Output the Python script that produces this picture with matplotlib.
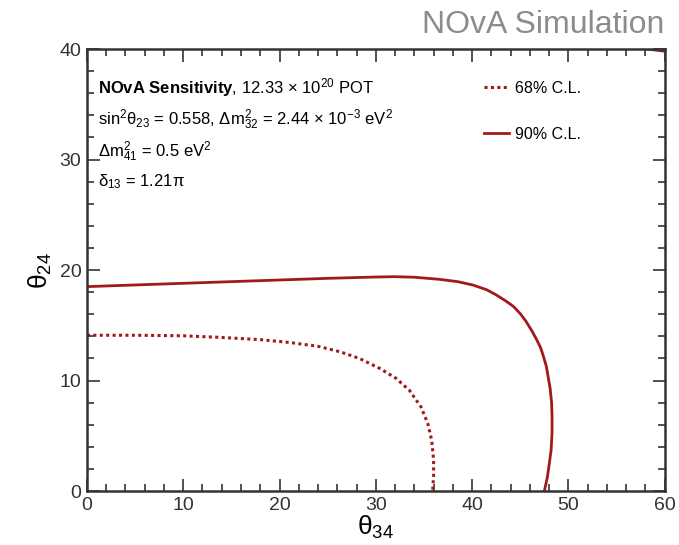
import matplotlib
matplotlib.use('Agg')
import matplotlib.pyplot as plt
from matplotlib.ticker import MultipleLocator

plt.rcParams['font.family'] = ['Liberation Sans', 'DejaVu Sans']
plt.rcParams['mathtext.fontset'] = 'custom'
plt.rcParams['mathtext.rm'] = 'Liberation Sans'
plt.rcParams['mathtext.it'] = 'Liberation Sans:italic'
plt.rcParams['mathtext.bf'] = 'Liberation Sans:bold'
plt.rcParams['mathtext.default'] = 'regular'

# contour points (theta34, theta24), degrees
theta34_90 = [0, 5, 10, 15, 20, 25, 30, 32, 34, 36.6, 38.5, 40.1, 41.5,
              42.5, 43.5, 44.3, 45.0, 45.6, 46.2, 46.7, 47.1, 47.4, 47.7,
              47.9, 48.1, 48.25, 48.3, 48.3, 48.2, 48.0, 47.8, 47.5]
theta24_90 = [18.5, 18.65, 18.8, 18.95, 19.1, 19.25, 19.37, 19.4, 19.35,
              19.16, 18.95, 18.64, 18.22, 17.75, 17.2, 16.7, 16.05, 15.35,
              14.5, 13.7, 13.0, 12.2, 11.3, 10.3, 9.3, 8.0, 6.7, 5.3,
              3.7, 2.4, 1.2, 0]
# small piece of the 90% contour in the top right corner
theta34_90_corner = [58.2, 60]
theta24_90_corner = [40, 39.8]

theta34_68 = [0, 5, 10, 14, 18, 21, 24, 26.3, 28.3, 30.4, 32.1, 33.5,
              34.7, 35.4, 35.8, 36.0, 36.0, 35.9]
theta24_68 = [14.1, 14.1, 14.05, 13.9, 13.7, 13.45, 13.1, 12.6, 12.0,
              11.1, 10.2, 9.1, 7.6, 6.1, 4.6, 2.8, 1.4, 0]

info_lines = [r'$\mathbf{NOvA\ Sensitivity}$, 12.33 $\times$ 10$^{20}$ POT',
              r'sin$^{2}\theta_{23}$ = 0.558, $\Delta$m$^{2}_{32}$ = 2.44 $\times$ 10$^{-3}$ eV$^{2}$',
              r'$\Delta$m$^{2}_{41}$ = 0.5 eV$^{2}$',
              r'$\delta_{13}$ = 1.21$\pi$']

red = '#a3181c'

fig = plt.figure(figsize=(6.79, 5.45), dpi=100)
ax = fig.add_axes([0.128, 0.099, 0.851, 0.811])

ax.plot(theta34_68, theta24_68, color=red, lw=2.2, linestyle=(0, (1, 1.1)),
        label='68% C.L.')
ax.plot(theta34_90, theta24_90, color=red, lw=2.0, label='90% C.L.')
ax.plot(theta34_90_corner, theta24_90_corner, color=red, lw=2.0)

ax.set_xlim(0, 60)
ax.set_ylim(0, 40)
ax.xaxis.set_major_locator(MultipleLocator(10))
ax.xaxis.set_minor_locator(MultipleLocator(2))
ax.yaxis.set_major_locator(MultipleLocator(10))
ax.yaxis.set_minor_locator(MultipleLocator(2))
ax.tick_params(which='both', direction='in', top=True, right=True,
               colors='#333333', labelsize=14, width=1.2)
ax.tick_params(which='major', length=9, pad=4)
ax.tick_params(which='minor', length=5)
for sp in ax.spines.values():
    sp.set_linewidth(1.8)
    sp.set_color('#333333')

ax.set_xlabel(r'$\theta_{34}$', fontsize=19, labelpad=0)
ax.set_ylabel(r'$\theta_{24}$', fontsize=19, labelpad=4)

# info text block
ys = [0.912, 0.840, 0.768, 0.700]
for txt, yy in zip(info_lines, ys):
    ax.text(0.019, yy, txt, transform=ax.transAxes, fontsize=12,
            va='center', ha='left')

ax.legend(loc='upper left', bbox_to_anchor=(0.674, 0.946), frameon=False,
          fontsize=11.5, handlelength=1.55, handletextpad=0.35,
          labelspacing=1.95, borderpad=0)

fig.text(0.979, 0.955, 'NOvA Simulation', ha='right', va='center',
         fontsize=23, color='#8c8c8c')

plt.savefig('out.png', dpi=100)
